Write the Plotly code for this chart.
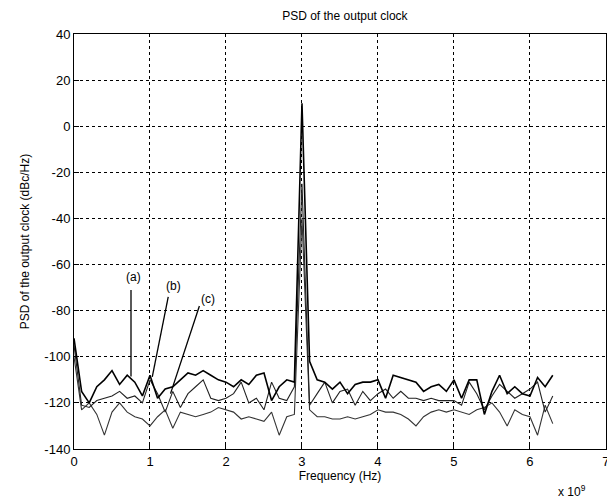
import plotly.graph_objects as go

# Frequency axis in units of 1e9 Hz
freq_ghz = [i / 10 for i in range(64)]

psd_a = [-92, -115, -120, -113, -110, -106, -112, -108, -111, -117,
         -108, -118, -114, -113, -110, -107, -108, -106, -108, -110,
         -111, -113, -110, -112, -108, -107, -119, -113, -110, -111,
         10, -102, -110, -111, -114, -111, -116, -112, -111, -111,
         -110, -118, -108, -109, -110, -111, -115, -113, -112, -115,
         -110, -118, -110, -110, -125, -115, -108, -116, -113, -116,
         -117, -109, -113, -108]

psd_b = [-95, -121, -122, -119, -118, -117, -115, -118, -117, -120,
         -110, -116, -124, -115, -122, -116, -113, -110, -118, -119,
         -118, -116, -111, -120, -118, -123, -111, -118, -119, -113,
         -25, -121, -116, -111, -120, -115, -114, -121, -115, -119,
         -116, -114, -118, -115, -118, -118, -119, -118, -119, -119,
         -119, -121, -111, -116, -123, -117, -112, -115, -118, -116,
         -114, -111, -124, -117]

psd_c = [-100, -123, -120, -125, -134, -124, -120, -124, -126, -127,
         -130, -126, -123, -131, -124, -125, -126, -125, -124, -122,
         -123, -124, -127, -126, -127, -128, -124, -134, -126, -125,
         -40, -123, -126, -126, -127, -127, -126, -127, -126, -125,
         -123, -124, -124, -125, -127, -130, -126, -124, -123, -124,
         -123, -124, -125, -123, -122, -120, -124, -130, -123, -125,
         -126, -134, -121, -129]

x_ticks = [0, 1, 2, 3, 4, 5, 6, 7]
y_ticks = [40, 20, 0, -20, -40, -60, -80, -100, -120, -140]
labels = ["(a)", "(b)", "(c)"]

FONT = "Liberation Sans, Arial, sans-serif"

fig = go.Figure()
for ys, w, col in [(psd_c, 1.1, "#333333"), (psd_b, 1.1, "#222222"), (psd_a, 1.6, "#000000")]:
    fig.add_trace(go.Scatter(x=freq_ghz, y=ys, mode="lines",
                             line=dict(color=col, width=w), showlegend=False))

# pointer lines for the labels
pointer_lines = [((0.75, -71), (0.75, -108.6)),
                 ((1.24, -74), (1.03, -108.7)),
                 ((1.65, -78), (1.27, -116))]
label_pos = [(0.78, -65.5), (1.31, -69.5), (1.76, -75)]
for (p0, p1), (lx, ly), txt in zip(pointer_lines, label_pos, labels):
    fig.add_shape(type="line", x0=p0[0], y0=p0[1], x1=p1[0], y1=p1[1],
                  line=dict(color="black", width=1.3))
    fig.add_annotation(x=lx, y=ly, text=txt, showarrow=False,
                       font=dict(family=FONT, size=12, color="black"))

axis_common = dict(showline=True, linecolor="black", linewidth=1, mirror=True,
                   ticks="inside", ticklen=5, tickcolor="black", automargin=False,
                   ticklabeloverflow="allow",
                   showgrid=True, gridcolor="black", gridwidth=1, griddash="dot",
                   zeroline=False, tickfont=dict(family=FONT, size=13, color="black"))

fig.update_xaxes(range=[0, 7.0005], tickvals=x_ticks, ticktext=[str(v) for v in x_ticks],
                 title=dict(text="Frequency (Hz)", font=dict(family=FONT, size=12, color="black"),
                            standoff=2),
                 **axis_common)
fig.update_yaxes(range=[-140, 40], tickvals=y_ticks,
                 ticktext=[str(v) for v in y_ticks],
                 title=dict(text="PSD of the output clock (dBc/Hz)",
                            font=dict(family=FONT, size=12, color="black"), standoff=12),
                 **axis_common)

fig.add_annotation(x=0.936, y=-0.1, xref="paper", yref="paper",
                   text="x 10<sup>9</sup>", showarrow=False, xanchor="center", yanchor="middle",
                   font=dict(family=FONT, size=12, color="black"))

fig.update_layout(
    width=607, height=493,
    margin=dict(l=66, r=9, t=26, b=52),
    paper_bgcolor="white", plot_bgcolor="white",
    title=dict(text="PSD of the output clock", x=0.555, xanchor="center", y=0.985,
               yanchor="middle", font=dict(family=FONT, size=12, color="black")),
)

fig.write_html("out.html")
